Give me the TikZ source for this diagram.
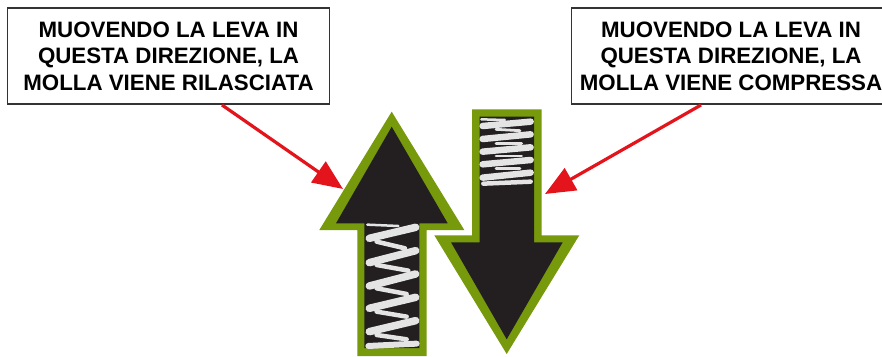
\documentclass[tikz,border=0pt]{standalone}
\usepackage{fontspec}
\setmainfont{Liberation Sans}
\usetikzlibrary{arrows.meta}
\definecolor{leaf}{HTML}{769A0C}
\definecolor{ink}{HTML}{231F20}
\definecolor{coil}{HTML}{E4E4E4}
\definecolor{redarrow}{HTML}{E4141C}
\tikzset{
  notebox/.style={draw=black!80,line width=1.6pt,fill=white,minimum height=96pt,align=center,inner sep=0pt,
    font=\fontsize{22.3}{26.6}\selectfont\bfseries},
  pointer/.style={draw=redarrow,line width=3.2pt,-{Triangle[length=30pt,width=25pt,fill=redarrow]}},
  front/.style={draw=coil,line width=7.5pt,line cap=round},
  back/.style={draw=coil,line width=4.5pt,line cap=round},
  small front/.style={draw=coil,line width=6.5pt,line cap=round},
  small back/.style={draw=coil,line width=2.8pt,line cap=round},
  thin coil/.style={draw=coil,line width=2.5pt,line cap=round},
}
\begin{document}
\begin{tikzpicture}[x=1pt,y=-1pt]
\useasboundingbox (0,0) rectangle (882,356);
\fill[white] (0,0) rectangle (882,356);
% up arrow
\fill[leaf] (391.7,111.7) -- (464.3,230) -- (426.7,230) -- (426.7,356) -- (357.3,356) -- (357.3,230) -- (319.3,230) -- cycle;
\fill[ink] (391.7,126.7) -- (447.7,223.3) -- (419.3,223.3) -- (419.3,348) -- (364.3,348) -- (364.3,223.3) -- (336,223.3) -- cycle;
% down arrow
\fill[leaf] (472,109.3) -- (541.7,109.3) -- (541.7,235.3) -- (579.3,235.3) -- (506.7,354) -- (434.3,235.3) -- (472,235.3) -- cycle;
\fill[ink] (479.7,116.7) -- (534,116.7) -- (534,242.3) -- (562.7,242.3) -- (506.7,339.3) -- (451,242.3) -- (479.7,242.3) -- cycle;
% up spring
\begin{scope}[shift={(310,100)},x=0.3333pt,y=-0.3333pt]
\foreach \a/\b/\c/\d in {200/425/285/445,200/495/295/512,200/565/290/582,200/635/290/650,200/705/290/718}
  \draw[back] (\a,\b) -- (\c,\d);
\foreach \a/\b/\c/\d in {178/415/317/382,178/488/317/452,178/558/317/522,178/625/317/592,178/695/317/662}
  \draw[front] (\a,\b) -- (\c,\d);
\draw[thin coil] (172,374) -- (265,378);
\draw[coil,line width=6pt,line cap=round] (175,738) -- (320,731);
% down spring
\foreach \a/\b/\c/\d in {558/88/630/92,558/130/635/130,558/168/635/168,558/206/630/206}
  \draw[small back] (\a,\b) -- (\c,\d);
\foreach \a/\b/\c/\d in {518/78/662/65,518/117/662/103,518/155/662/142,518/193/662/180,518/233/662/218}
  \draw[small front] (\a,\b) -- (\c,\d);
\draw[coil,line width=4.5pt,line cap=round] (520,251) -- (662,245);
\draw[thin coil] (514,58) -- (585,60);
\end{scope}
% notes
\node[notebox,minimum width=322pt] (release) at (168.5,56) {MUOVENDO LA LEVA IN\\QUESTA DIREZIONE, LA\\MOLLA VIENE RILASCIATA};
\node[notebox,minimum width=319pt] (compress) at (731,56) {MUOVENDO LA LEVA IN\\QUESTA DIREZIONE, LA\\MOLLA VIENE COMPRESSA};
\coordinate (relfrom) at (222,105);
\coordinate (relto) at (343,189);
\coordinate (comfrom) at (701,105);
\coordinate (comto) at (545,194);
\draw[pointer] (relfrom) -- (relto);
\draw[pointer] (comfrom) -- (comto);
\end{tikzpicture}
\end{document}
